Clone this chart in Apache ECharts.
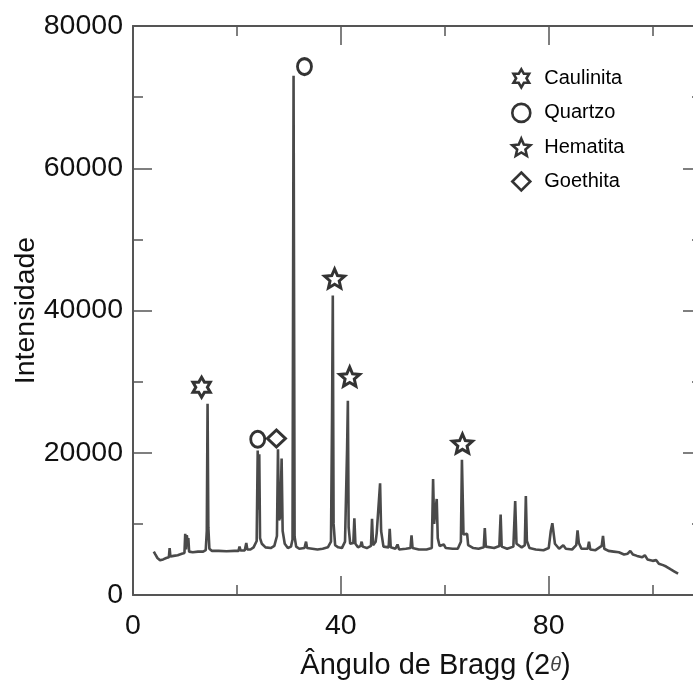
<!DOCTYPE html>
<html>
<head>
<meta charset="utf-8">
<script src="https://cdn.jsdelivr.net/npm/echarts@6/dist/echarts.min.js"></script>
<style>
  html, body { margin: 0; padding: 0; background: #fff; }
  #echart1 { width: 693px; height: 680px; }
</style>
</head>
<body>
<div id="echart1"></div>
<script>
'use strict'

/* difractograma: 2theta e intensidade */
var twoTheta = [
  4.0, 4.3, 4.7, 5.2, 5.8, 6.4, 6.9, 7.05, 7.2, 7.8, 8.6, 9.4, 9.9, 10.05, 10.2, 10.35, 10.5, 10.65, 10.8,
  11.5, 12.5, 13.5, 14.0, 14.2, 14.35, 14.5, 14.7, 15.2, 16.5, 18, 19.5, 20.3, 20.5, 20.7, 21.5, 21.8, 22.0,
  22.6, 23.2, 23.8, 24.0, 24.15, 24.3, 24.45, 24.8, 25.5, 26.5, 27.2, 27.7, 27.9, 28.1, 28.35, 28.6, 28.8,
  29.2, 29.8, 30.4, 30.7, 30.9, 31.1, 31.4, 32.0, 33.0, 33.3, 33.5, 34.5, 35.5, 36.5, 37.5, 38.1, 38.3, 38.45,
  38.6, 38.9, 39.5, 40.2, 40.8, 41.2, 41.35, 41.5, 41.8, 42.4, 42.6, 42.8, 43.3, 43.8, 44.0, 44.2, 45.0, 45.8,
  46.0, 46.2, 46.7, 46.9, 47.2, 47.55, 47.75, 48.2, 49.2, 49.4, 49.6, 50.5, 50.9, 51.2, 52.5, 53.4, 53.6, 53.8,
  55, 56.5, 57.5, 57.75, 57.95, 58.45, 58.65, 59.0, 59.8, 60.2, 61.5, 62.5, 63.1, 63.3, 63.45, 63.6, 64.3, 64.5,
  65.5, 66.5, 67.5, 67.7, 67.9, 69.5, 70.5, 70.75, 70.95, 72.0, 73.2, 73.55, 73.8, 74.8, 75.4, 75.6, 75.8, 76.3,
  77.5, 79.0, 80.0, 80.4, 80.7, 80.9, 81.2, 82.0, 82.8, 83.3, 84.5, 85.3, 85.55, 85.8, 86.3, 87.5, 87.75, 88.0,
  89.0, 90.2, 90.45, 90.7, 91.5, 92.5, 93.5, 94.5, 95.2, 95.7, 96.2, 97.0, 98.0, 98.5, 99.0, 100.0, 100.7,
  101.2, 102.0, 102.6, 103.5, 104.2, 104.9
];
var intensidade = [
  6100, 5700, 5200, 4900, 5000, 5200, 5300, 6600, 5400, 5500, 5600, 5800, 5900, 8600, 6400, 8400, 7600, 8000, 6100,
  6000, 6100, 6100, 6300, 9000, 26900, 9500, 6500, 6200, 6200, 6150, 6200, 6200, 6800, 6250, 6250, 7300, 6400,
  6400, 6700, 7600, 20300, 12000, 19800, 8000, 7200, 6700, 6600, 6900, 8300, 20500, 10500, 11000, 19200, 9000,
  7200, 6600, 6800, 7800, 73000, 8200, 6800, 6500, 6600, 7500, 6600, 6500, 6400, 6500, 6700, 7500, 24600, 42100,
  10000, 7000, 6700, 6600, 7500, 20600, 27300, 9500, 7200, 7300, 10800, 7200, 6700, 6900, 7500, 6800, 6600, 6900,
  10700, 7000, 7500, 8700, 8500, 15700, 9000, 6800, 6700, 9300, 6700, 6500, 7100, 6400, 6500, 6600, 8400, 6600,
  6400, 6400, 6600, 16300, 10000, 13500, 8000, 6900, 7100, 6600, 6500, 6500, 7500, 19000, 13800, 8500, 8600, 7000,
  6600, 6500, 6700, 9400, 6800, 6600, 6900, 11300, 6800, 6500, 6800, 13200, 7200, 6700, 7000, 13900, 7600, 6600,
  6400, 6300, 6600, 9000, 10100, 10200, 7200, 6500, 7000, 6500, 6400, 7000, 9100, 7300, 6500, 6500, 7500, 6400,
  6300, 6900, 8300, 6500, 6200, 6100, 6000, 5700, 5800, 6200, 5700, 5500, 5300, 5600, 5000, 4800, 4900,
  4400, 4200, 4000, 3600, 3300, 3000
];

/* marcadores das fases */
var caulinita = [[13.2, 29200]];
var quartzo = [[33.0, 74300], [24.0, 21900]];
var hematita = [[38.8, 44500], [41.7, 30700], [63.4, 21300]];
var goethita = [[27.6, 22000]];

var xTicks = [0, 40, 80];
var yTicks = [0, 20000, 40000, 60000, 80000];

var pontos = twoTheta.map(function (t, i) { return [t, intensidade[i]]; });

/* simbolos */
function starPath(n, rIn) {
  var d = '';
  for (var k = 0; k < 2 * n; k++) {
    var r = k % 2 === 0 ? 10 : rIn;
    var a = -Math.PI / 2 + k * Math.PI / n;
    d += (k === 0 ? 'M' : 'L') + (10 + r * Math.cos(a)).toFixed(2) + ' ' + (10 + r * Math.sin(a)).toFixed(2);
  }
  return 'path://' + d + 'Z';
}
var hexagrama = starPath(6, 5.77);
var estrela = starPath(5, 4.6);

var font = "'Liberation Sans', Arial, sans-serif";
var marcador = { color: '#fff', borderColor: '#000', borderWidth: 3 };
var eixo = { onZero: false, lineStyle: { color: '#555', width: 2 } };
var tick = { show: true, inside: true, length: 19, lineStyle: { color: '#555', width: 1.5 } };
var minor = { show: true, splitNumber: 2, length: 10, lineStyle: { color: '#555', width: 1.5 } };

var chart = document.getElementById('echart1');
var xrdChart = echarts.init(chart);
var option = {
  animation: false,
  backgroundColor: '#fff',
  grid: { left: 133, top: 26, right: -9, bottom: 85, outerBoundsMode: 'none' },
  legend: {
    orient: 'vertical',
    left: 506,
    top: 63,
    itemWidth: 18,
    itemHeight: 18,
    itemGap: 14,
    data: ['Caulinita', 'Quartzo', 'Hematita', 'Goethita'],
    itemStyle: { borderColor: '#000', borderWidth: 2.6 },
    textStyle: {
      fontFamily: font,
      fontSize: 20,
      color: '#000',
      padding: [0, 0, 0, 9]
    }
  },
  xAxis: [{
    type: 'value',
    min: 0,
    max: 109.5,
    interval: 40,
    name: '{a|Ângulo de Bragg (2}{t|θ}{a|)}',
    nameLocation: 'middle',
    nameGap: 56,
    nameMoveOverlap: false,
    nameTextStyle: {
      padding: [0, 0, 0, 36],
      rich: {
        a: { fontFamily: font, fontSize: 29, color: '#111' },
        t: { fontFamily: font, fontSize: 20, fontStyle: 'italic', color: '#444' }
      }
    },
    axisLine: eixo,
    axisTick: tick,
    minorTick: minor,
    splitLine: { show: false },
    axisLabel: {
      margin: 17,
      fontFamily: font,
      fontSize: 28.5,
      color: '#111',
      formatter: function (v) { return xTicks.indexOf(v) > -1 ? String(v) : ''; }
    }
  }, {
    type: 'value',
    position: 'top',
    min: 0,
    max: 109.5,
    interval: 40,
    axisLine: eixo,
    axisTick: tick,
    minorTick: minor,
    splitLine: { show: false },
    axisLabel: { show: false }
  }],
  yAxis: [{
    type: 'value',
    min: 0,
    max: 80000,
    interval: 20000,
    name: 'Intensidade',
    nameLocation: 'middle',
    nameGap: 92,
    nameMoveOverlap: false,
    nameTextStyle: { fontFamily: font, fontSize: 28.5, color: '#111' },
    axisLine: eixo,
    axisTick: tick,
    minorTick: minor,
    splitLine: { show: false },
    axisLabel: {
      margin: 10,
      fontFamily: font,
      fontSize: 28.5,
      color: '#111',
      formatter: function (v) { return yTicks.indexOf(v) > -1 ? String(v) : ''; }
    }
  }, {
    type: 'value',
    position: 'right',
    min: 0,
    max: 80000,
    interval: 20000,
    axisLine: eixo,
    axisTick: tick,
    minorTick: minor,
    splitLine: { show: false },
    axisLabel: { show: false }
  }],
  series: [{
    name: 'DRX',
    type: 'line',
    data: pontos,
    showSymbol: false,
    symbol: 'none',
    lineStyle: { color: '#4a4a4a', width: 2.6 },
    z: 2
  }, {
    name: 'Caulinita', type: 'scatter', data: caulinita,
    symbol: hexagrama, symbolSize: 20, symbolKeepAspect: true, itemStyle: marcador, z: 3
  }, {
    name: 'Quartzo', type: 'scatter', data: quartzo,
    symbol: 'circle', symbolSize: [14, 16], itemStyle: marcador, z: 3
  }, {
    name: 'Hematita', type: 'scatter', data: hematita,
    symbol: estrela, symbolSize: 20, symbolKeepAspect: true, itemStyle: marcador, z: 3
  }, {
    name: 'Goethita', type: 'scatter', data: goethita,
    symbol: 'diamond', symbolSize: [18, 17], itemStyle: marcador, z: 3
  }]
};
xrdChart.setOption(option);
/* fim */
</script>
</body>
</html>
